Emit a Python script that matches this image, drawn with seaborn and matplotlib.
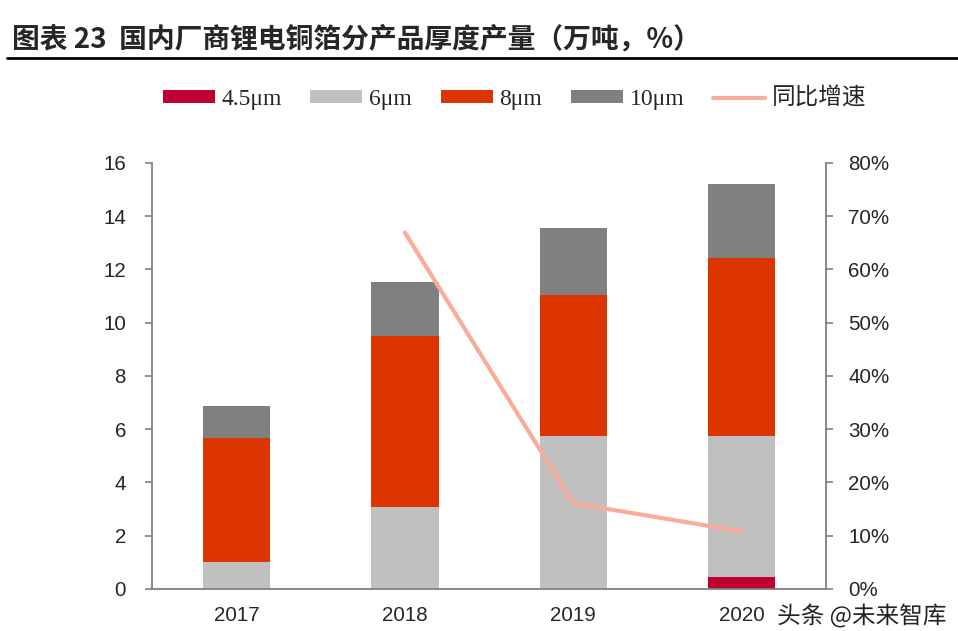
import matplotlib
matplotlib.use("Agg")
import matplotlib.pyplot as plt
import matplotlib.patheffects as pe
from matplotlib.patches import Patch
from matplotlib.lines import Line2D
from matplotlib.ticker import FuncFormatter
import seaborn as sns
import pandas as pd
import numpy as np

years = ["2017", "2018", "2019", "2020"]
v45 = [0.0, 0.0, 0.0, 0.46]
v6 = [1.0, 3.06, 5.75, 5.27]
v8 = [4.67, 6.42, 5.28, 6.70]
v10 = [1.18, 2.05, 2.53, 2.76]
growth_years = ["2018", "2019", "2020"]
growth = [0.669, 0.161, 0.108]

series_names = ["4.5μm", "6μm", "8μm", "10μm"]
colors = ["#C00030", "#C0C0C0", "#DC3500", "#808080"]
line_color = "#F8AC9A"

sns.set_theme(style="white")
plt.rcParams["font.family"] = ["Liberation Sans", "Noto Sans CJK SC", "DejaVu Sans"]

fig = plt.figure(figsize=(9.58, 6.31), dpi=100)
ax = fig.add_axes([0.159, 0.0666, 0.703, 0.6755])

layers = [v45, v6, v8, v10]
cum = np.cumsum(np.array(layers), axis=0)
df = pd.DataFrame({"year": years})
for i in range(3, -1, -1):
    df["val"] = cum[i]
    sns.barplot(data=df, x="year", y="val", color=colors[i], width=0.4,
                saturation=1, ax=ax, linewidth=0)

ax.set_xlim(-0.5, 3.5)
ax.set_ylim(0, 16)
ax.set_yticks(range(0, 17, 2))
ax.set_xlabel("")
ax.set_ylabel("")
for s in ["top", "right"]:
    ax.spines[s].set_visible(False)
for s in ["left", "bottom"]:
    ax.spines[s].set_color("#808080")
    ax.spines[s].set_linewidth(1.3)
ax.tick_params(axis="y", direction="out", length=5, width=1.2, color="#808080",
               labelsize=14.8, pad=14, left=True)
ax.tick_params(axis="x", length=0, labelsize=14.8, pad=12)

ax2 = ax.twinx()
gdf = pd.DataFrame({"x": [years.index(y) for y in growth_years], "g": growth})
sns.lineplot(data=gdf, x="x", y="g", ax=ax2, color=line_color, linewidth=3)
ax2.set_ylim(0, 0.8)
ax2.set_xlim(-0.5, 3.5)
ax2.set_yticks(np.arange(0, 0.81, 0.1))
ax2.yaxis.set_major_formatter(FuncFormatter(lambda v, p: f"{v*100:.0f}%"))
ax2.set_ylabel("")
for s in ["top", "left", "bottom"]:
    ax2.spines[s].set_visible(False)
ax2.spines["right"].set_color("#808080")
ax2.spines["right"].set_linewidth(1.3)
ax2.tick_params(axis="y", direction="out", length=5, width=1.2, color="#808080",
                labelsize=14.8, pad=11, right=True)

# title
fig.text(0.013, 0.937, "图表 23  国内厂商锂电铜箔分产品厚度产量（万吨，%）",
         fontsize=20, fontweight="bold", ha="left", va="center",
         family=["Noto Sans CJK SC", "DejaVu Sans"])
fig.add_artist(Line2D([0.007, 1.0], [0.908, 0.908], color="black", linewidth=2,
                      transform=fig.transFigure))

handles = [Patch(facecolor=c, edgecolor="none") for c in colors]
handles.append(Line2D([0], [0], color=line_color, linewidth=3))
labels = series_names + ["同比增速"]
leg = fig.legend(handles, labels, loc="center", bbox_to_anchor=(0.537, 0.843),
                 ncol=5, frameon=False, handlelength=2.2, handleheight=0.5,
                 handletextpad=0.3, columnspacing=1.2,
                 prop={"family": ["Liberation Serif", "Noto Sans CJK SC"], "size": 17})

fig.text(0.988, 0.024, "头条 @未来智库", fontsize=17, color="#222222", ha="right",
         va="center", family=["Noto Sans CJK SC"],
         path_effects=[pe.withStroke(linewidth=3, foreground="white")])

fig.savefig("out.png", dpi=100)
